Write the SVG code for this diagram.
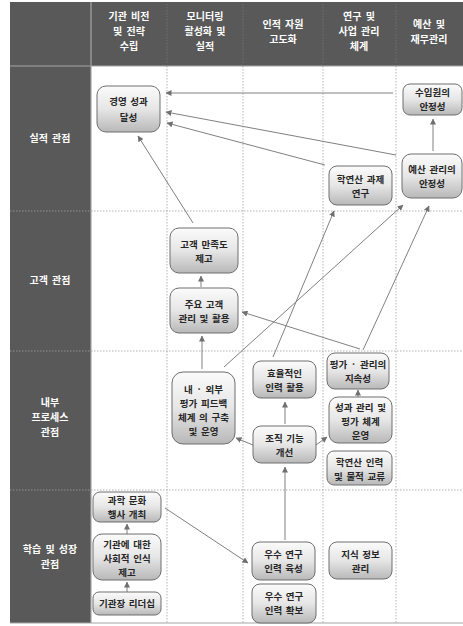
<svg xmlns="http://www.w3.org/2000/svg" width="463" height="626" viewBox="0 0 463 626">
<defs>
<linearGradient id="g" x1="0" y1="0" x2="0" y2="1">
<stop offset="0" stop-color="#fbfbfb"/>
<stop offset="0.5" stop-color="#e6e6e6"/>
<stop offset="1" stop-color="#b8b8b8"/>
</linearGradient>
<marker id="ah" markerWidth="6" markerHeight="6" refX="5.5" refY="3" orient="auto" markerUnits="userSpaceOnUse">
<path d="M0,0 L6,3 L0,6 Z" fill="#707070"/>
</marker>
<style>
.hd{fill:#595959}
.ht{font-family:"Noto Sans CJK KR","Noto Sans",sans-serif;font-size:10px;font-weight:bold;fill:#ffffff;text-anchor:middle;word-spacing:2px}
.grid{stroke:#a0a0a0;stroke-width:0.8;stroke-dasharray:1.5 1.5;fill:none}
.gridh{stroke:#8c8c8c;stroke-width:0.8;stroke-dasharray:1.5 1.5;fill:none}
.frame{stroke:#a6a6a6;stroke-width:1.2;fill:none}
.nd rect{fill:url(#g);stroke:#6e6e6e;stroke-width:1}
.nd text{font-family:"Noto Sans CJK KR","Noto Sans",sans-serif;font-size:9.5px;font-weight:bold;fill:#262626;text-anchor:middle;word-spacing:1.5px}
.cn path,.cn line{stroke:#808080;stroke-width:1;fill:none;marker-end:url(#ah)}
</style>
</defs>
<rect x="0" y="0" width="463" height="626" fill="#ffffff"/>
<g id="frame">
<rect class="hd" x="10" y="2" width="453" height="64"/>
<rect class="hd" x="10" y="66" width="81" height="557"/>
<line class="frame" x1="10" y1="66" x2="463" y2="66"/>
<line class="frame" x1="91" y1="2" x2="91" y2="623"/>
<line class="frame" x1="10" y1="623" x2="463" y2="623"/>
<line class="gridh" x1="167" y1="4" x2="167" y2="64" opacity="0.6"/>
<line class="gridh" x1="243" y1="4" x2="243" y2="64" opacity="0.6"/>
<line class="gridh" x1="323" y1="4" x2="323" y2="64" opacity="0.6"/>
<line class="gridh" x1="396" y1="4" x2="396" y2="64" opacity="0.6"/>
<line class="grid" x1="167" y1="66" x2="167" y2="623"/>
<line class="grid" x1="243" y1="66" x2="243" y2="623"/>
<line class="grid" x1="323" y1="66" x2="323" y2="623"/>
<line class="grid" x1="396" y1="66" x2="396" y2="623"/>
<line class="grid" x1="10" y1="211" x2="463" y2="211"/>
<line class="grid" x1="10" y1="351" x2="463" y2="351"/>
<line class="grid" x1="10" y1="490" x2="463" y2="490"/>
</g>
<g id="headers">
<text class="ht" x="129" y="20">기관 비전</text>
<text class="ht" x="129" y="35">및 전략</text>
<text class="ht" x="129" y="50">수립</text>
<text class="ht" x="205" y="20">모니터링</text>
<text class="ht" x="205" y="35">활성화 및</text>
<text class="ht" x="205" y="50">실적</text>
<text class="ht" x="283" y="28">인적 자원</text>
<text class="ht" x="283" y="43">고도화</text>
<text class="ht" x="359" y="20">연구 및</text>
<text class="ht" x="359" y="35">사업 관리</text>
<text class="ht" x="359" y="50">체계</text>
<text class="ht" x="429" y="28">예산 및</text>
<text class="ht" x="429" y="43">재무관리</text>
<text class="ht" x="50" y="142">실적 관점</text>
<text class="ht" x="50" y="284">고객 관점</text>
<text class="ht" x="50" y="406">내부</text>
<text class="ht" x="50" y="421">프로세스</text>
<text class="ht" x="50" y="436">관점</text>
<text class="ht" x="50" y="553">학습 및 성장</text>
<text class="ht" x="50" y="568">관점</text>
</g>
<g id="connectors" class="cn">
<line x1="393" y1="93" x2="166" y2="93"/>
<line x1="396" y1="155" x2="166" y2="112"/>
<line x1="325" y1="165" x2="167" y2="123"/>
<line x1="193" y1="223" x2="138" y2="136"/>
<line x1="433" y1="151" x2="433" y2="119"/>
<line x1="273" y1="357" x2="334" y2="211"/>
<line x1="224" y1="367" x2="403" y2="205"/>
<line x1="363" y1="350" x2="429" y2="206"/>
<line x1="360" y1="349" x2="242" y2="312"/>
<line x1="201" y1="287" x2="201" y2="276"/>
<line x1="202" y1="369" x2="202" y2="336"/>
<line x1="253" y1="445" x2="236" y2="438"/>
<line x1="285" y1="424" x2="285" y2="402"/>
<line x1="316" y1="445" x2="327" y2="437"/>
<line x1="358" y1="397" x2="358" y2="390"/>
<line x1="285" y1="540" x2="285" y2="467"/>
<line x1="165" y1="508" x2="248" y2="563"/>
<line x1="127" y1="534" x2="127" y2="524"/>
<line x1="127" y1="592" x2="127" y2="582"/>
</g>
<g id="n1" class="nd"><rect x="97" y="86" width="63" height="46" rx="9"/><text x="128.5" y="105">경영 성과</text><text x="128.5" y="121">달성</text></g>
<g id="n2" class="nd"><rect x="403" y="84" width="59" height="31" rx="7"/><text x="432.5" y="96">수입원의</text><text x="432.5" y="110">안정성</text></g>
<g id="n3" class="nd"><rect x="402" y="154" width="60" height="44" rx="9"/><text x="432" y="173">예산 관리의</text><text x="432" y="187">안정성</text></g>
<g id="n4" class="nd"><rect x="329" y="166" width="63" height="39" rx="8"/><text x="360.5" y="183">학연산 과제</text><text x="360.5" y="197">연구</text></g>
<g id="n5" class="nd"><rect x="170" y="228" width="68" height="45" rx="9"/><text x="204" y="248">고객 만족도</text><text x="204" y="262">제고</text></g>
<g id="n6" class="nd"><rect x="170" y="288" width="68" height="45" rx="9"/><text x="204" y="308">주요 고객</text><text x="204" y="322">관리 및 활용</text></g>
<g id="n7" class="nd"><rect x="172" y="372" width="63" height="72" rx="11"/><text x="203.5" y="393">내 · 외부</text><text x="203.5" y="407">평가 피드백</text><text x="203.5" y="421">체계 의 구축</text><text x="203.5" y="435">및 운영</text></g>
<g id="n8" class="nd"><rect x="253" y="361" width="63" height="37" rx="8"/><text x="284.5" y="377">효율적인</text><text x="284.5" y="391">인력 활용</text></g>
<g id="n9" class="nd"><rect x="253" y="426" width="63" height="37" rx="8"/><text x="284.5" y="442">조직 기능</text><text x="284.5" y="456">개선</text></g>
<g id="n10" class="nd"><rect x="327" y="353" width="62" height="36" rx="8"/><text x="358" y="368">평가 · 관리의</text><text x="358" y="382">지속성</text></g>
<g id="n11" class="nd"><rect x="329" y="397" width="63" height="46" rx="9"/><text x="360.5" y="411">성과 관리 및</text><text x="360.5" y="425">평가 체계</text><text x="360.5" y="439">운영</text></g>
<g id="n12" class="nd"><rect x="327" y="451" width="65" height="34" rx="7"/><text x="359.5" y="466">학연산 인력</text><text x="359.5" y="480">및 물적 교류</text></g>
<g id="n13" class="nd"><rect x="93" y="492" width="68" height="30" rx="7"/><text x="127" y="504">과학 문화</text><text x="127" y="518">행사 개최</text></g>
<g id="n14" class="nd"><rect x="93" y="534" width="68" height="46" rx="9"/><text x="127" y="548">기관에 대한</text><text x="127" y="562">사회적 인식</text><text x="127" y="576">제고</text></g>
<g id="n15" class="nd"><rect x="93" y="592" width="68" height="23" rx="6"/><text x="127" y="607">기관장 리더십</text></g>
<g id="n16" class="nd"><rect x="252" y="542" width="63" height="38" rx="8"/><text x="283.5" y="558">우수 연구</text><text x="283.5" y="572">인력 육성</text></g>
<g id="n17" class="nd"><rect x="252" y="584" width="64" height="39" rx="8"/><text x="284" y="600">우수 연구</text><text x="284" y="614">인력 확보</text></g>
<g id="n18" class="nd"><rect x="329" y="542" width="63" height="37" rx="8"/><text x="360.5" y="558">지식 정보</text><text x="360.5" y="572">관리</text></g>
</svg>
